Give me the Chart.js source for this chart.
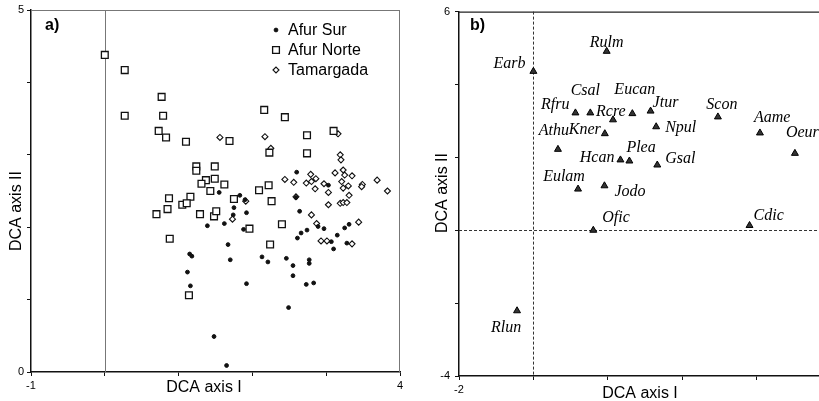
<!DOCTYPE html>
<html>
<head>
<meta charset="utf-8">
<script src="https://cdn.jsdelivr.net/npm/chart.js@4/dist/chart.umd.min.js"></script>
<style>
  html, body { margin: 0; padding: 0; background: #fff; width: 819px; height: 401px; overflow: hidden; }
  #wrapA { position: absolute; left: 0; top: 0; width: 410px; height: 401px; }
  #wrapB { position: absolute; left: 410px; top: 0; width: 430px; height: 401px; }
</style>
</head>
<body>
<div id="wrapA"><canvas id="chartA" width="410" height="401"></canvas></div>
<div id="wrapB"><canvas id="chartB" width="430" height="401"></canvas></div>
<script>
// ---- panel a: sample scores on DCA axes I / II ----
const afurSur = [
  [2.60,2.76],[3.03,2.58],[1.55,2.48],[1.83,2.44],[1.90,2.38],[2.59,2.41],[1.75,2.27],
  [1.92,2.20],[2.64,2.22],[1.39,2.02],[1.62,2.05],[1.88,1.97],[1.67,1.76],[1.70,1.55],
  [1.15,1.63],[1.18,1.60],[1.12,1.38],[1.16,1.19],[1.92,1.22],[1.48,0.49],[1.65,0.09],
  [2.13,1.59],[2.21,1.52],[2.46,1.57],[2.55,1.47],[2.55,1.33],[2.77,1.55],[2.77,1.50],
  [2.73,1.21],[2.83,1.23],[2.49,0.89],[2.61,1.85],[2.66,1.92],[2.74,1.96],[2.89,2.01],
  [2.97,1.98],[3.07,1.80],[3.10,1.70],[3.15,1.89],[3.25,1.99],[3.31,2.04],[3.28,1.78],
  [1.74,2.17]
];
const afurNorte = [
  [0.00,4.38],[0.27,4.17],[0.77,3.80],[0.27,3.54],[0.79,3.54],[0.73,3.33],[0.83,3.24],
  [1.10,3.18],[1.69,3.19],[2.16,3.62],[2.44,3.52],[2.74,3.27],[3.10,3.33],[2.23,3.03],
  [2.74,3.02],[1.24,2.84],[1.24,2.78],[1.49,2.84],[1.37,2.65],[1.49,2.67],[1.31,2.60],
  [1.62,2.59],[1.43,2.50],[2.09,2.51],[2.22,2.58],[0.87,2.40],[1.16,2.42],[1.75,2.39],
  [1.05,2.31],[1.11,2.33],[0.70,2.18],[0.85,2.25],[1.29,2.18],[1.48,2.15],[1.51,2.22],
  [2.26,2.36],[1.96,1.98],[2.40,2.04],[0.88,1.84],[2.24,1.76],[1.14,1.06]
];
const tamargada = [
  [1.56,3.24],[2.17,3.25],[2.25,3.09],[3.16,3.29],[3.19,3.00],[3.20,2.93],[2.44,2.66],
  [2.56,2.62],[2.79,2.73],[2.73,2.61],[2.80,2.63],[2.86,2.67],[2.97,2.60],[2.85,2.53],
  [3.03,2.48],[3.12,2.75],[3.23,2.79],[3.25,2.72],[3.35,2.71],[3.21,2.63],[3.30,2.57],
  [3.23,2.54],[3.49,2.59],[3.48,2.56],[3.69,2.65],[3.83,2.50],[3.31,2.44],[2.59,2.42],
  [1.91,2.36],[3.03,2.31],[3.19,2.33],[3.23,2.34],[3.28,2.34],[2.80,2.17],[2.87,2.05],
  [2.93,1.81],[3.01,1.81],[3.35,1.77],[3.44,2.07],[1.73,2.11]
];
const seriesNames = ['Afur Sur', 'Afur Norte', 'Tamargada'];
const ticksA_x = [-1, 4];
const ticksA_y = [0, 5];

// ---- panel b: species scores ----
const species = ['Rulm','Earb','Rfru','Csal','Rcre','Eucan','Jtur','Scon','Npul','Kner','Aame',
                 'Athu','Oeur','Hcan','Plea','Gsal','Eulam','Jodo','Ofic','Cdic','Rlun'];
const speciesX = [1.97,0.00,1.13,1.53,2.14,2.66,3.15,4.96,3.30,1.92,6.09,
                  0.66,7.03,2.34,2.58,3.33,1.20,1.91,1.61,5.81,-0.44];
const speciesY = [4.91,4.36,3.22,3.22,3.03,3.20,3.27,3.11,2.84,2.65,2.67,
                  2.22,2.11,1.93,1.90,1.79,1.13,1.22,0.00,0.13,-2.21];
const ticksB_x = [-2, 8];
const ticksB_y = [-4, 6];

// label placement next to each triangle: [align, dx, dy]
const labelPlace = [
  ['center',0,-9],['right',-8,-8],['right',-6,-8],['center',-5,-22],['left',-17,-8],
  ['left',-18,-24],['left',2,-8],['center',4,-12],['left',9,1],['right',-4,-4],['left',-6,-15],
  ['center',-4,-19],['left',-9,-21],['right',-6,-2],['left',-3,-13],['left',8,-6],
  ['center',-14,-12],['left',10,6],['left',9,-12],['left',4,-10],['center',-11,17]
];

const SANS = '"Liberation Sans", Arial, sans-serif';
const SERIF = '"Liberation Serif", "Times New Roman", serif';

function toPts(arr) { return arr.map(p => ({x: p[0], y: p[1]})); }

function axisOpts(min, max, step, shown, pad, fit) {
  return {
    type: 'linear', min: min, max: max,
    afterFit: fit,
    ticks: {
      stepSize: step, color: '#000', padding: pad,
      font: {family: SANS, size: 11},
      callback: v => shown.includes(v) ? v : ''
    },
    grid: {drawOnChartArea: false, color: '#111', lineWidth: 1, tickLength: 4},
    border: {color: '#111', width: 1.5}
  };
}

const panelA = {
  id: 'panelA',
  beforeDatasetsDraw(chart) {
    const {ctx, chartArea: a, scales} = chart;
    ctx.save();
    ctx.strokeStyle = '#777';
    ctx.lineWidth = 1;
    ctx.beginPath();
    ctx.moveTo(a.left, a.top + 0.5); ctx.lineTo(a.right, a.top + 0.5);
    ctx.moveTo(a.right - 0.5, a.top); ctx.lineTo(a.right - 0.5, a.bottom);
    const x0 = Math.round(scales.x.getPixelForValue(0)) + 0.5;
    ctx.moveTo(x0, a.top); ctx.lineTo(x0, a.bottom);
    ctx.stroke();
    ctx.restore();
  },
  afterDraw(chart) {
    const ctx = chart.ctx;
    ctx.save();
    ctx.fillStyle = '#000';
    ctx.font = 'bold 16px ' + SANS;
    ctx.textBaseline = 'middle';
    ctx.fillText('a)', 45, 26);
    ctx.font = '16px ' + SANS;
    ctx.textAlign = 'center';
    ctx.fillText('DCA axis I', 204, 388);
    ctx.save();
    ctx.translate(17, 211);
    ctx.rotate(-Math.PI / 2);
    ctx.fillText('DCA axis II', 0, 0);
    ctx.restore();
    // legend
    ctx.textAlign = 'left';
    chart.data.datasets.forEach((ds, i) => {
      const y = 30 + i * 20;
      ctx.fillStyle = ds.pointBackgroundColor;
      ctx.strokeStyle = ds.pointBorderColor;
      ctx.lineWidth = ds.pointBorderWidth;
      Chart.helpers.drawPoint(ctx, {pointStyle: ds.pointStyle, radius: ds.pointRadius, borderWidth: ds.pointBorderWidth, rotation: 0}, 276, y);
      ctx.fillStyle = '#000';
      ctx.fillText(ds.label, 288, y + 1);
    });
    ctx.restore();
  }
};

new Chart(document.getElementById('chartA'), {
  type: 'scatter',
  data: {
    datasets: [
      {label: seriesNames[0], data: toPts(afurSur), pointStyle: 'circle', pointRadius: 1.9,
       pointBackgroundColor: '#111', pointBorderColor: '#111', pointBorderWidth: 1},
      {label: seriesNames[1], data: toPts(afurNorte), pointStyle: 'rect', pointRadius: 4.8,
       pointBackgroundColor: '#fff', pointBorderColor: '#111', pointBorderWidth: 1.3},
      {label: seriesNames[2], data: toPts(tamargada), pointStyle: 'rectRot', pointRadius: 3,
       pointBackgroundColor: '#fff', pointBorderColor: '#111', pointBorderWidth: 1.1}
    ]
  },
  options: {
    responsive: false, animation: false, events: [],
    layout: {padding: {top: 10, right: 10, left: 0, bottom: 0}},
    scales: {
      x: axisOpts(-1, 4, 1, ticksA_x, 3, s => { s.height = 29; }),
      y: axisOpts(0, 5, 1, ticksA_y, 3, s => { s.width = 31; })
    },
    plugins: {legend: {display: false}, tooltip: {enabled: false}}
  },
  plugins: [panelA]
});

const panelB = {
  id: 'panelB',
  beforeDatasetsDraw(chart) {
    const {ctx, chartArea: a, scales} = chart;
    ctx.save();
    ctx.strokeStyle = '#222';
    ctx.lineWidth = 1.3;
    ctx.beginPath();
    ctx.moveTo(a.left, a.top + 0.5); ctx.lineTo(a.right, a.top + 0.5);
    ctx.stroke();
    ctx.strokeStyle = '#333';
    ctx.lineWidth = 1;
    ctx.setLineDash([3, 2]);
    ctx.beginPath();
    const x0 = Math.round(scales.x.getPixelForValue(0)) + 0.5;
    const y0 = Math.round(scales.y.getPixelForValue(0)) + 0.5;
    ctx.moveTo(x0, a.top); ctx.lineTo(x0, a.bottom);
    ctx.moveTo(a.left, y0); ctx.lineTo(a.right, y0);
    ctx.stroke();
    ctx.restore();
  },
  afterDraw(chart) {
    const ctx = chart.ctx;
    const meta = chart.getDatasetMeta(0);
    ctx.save();
    ctx.fillStyle = '#000';
    ctx.textBaseline = 'middle';
    ctx.font = 'italic 16px ' + SERIF;
    meta.data.forEach((pt, i) => {
      const p = labelPlace[i];
      ctx.textAlign = p[0];
      ctx.fillText(species[i], pt.x + p[1], pt.y + p[2]);
    });
    ctx.textAlign = 'left';
    ctx.font = 'bold 16px ' + SANS;
    ctx.fillText('b)', 60, 26);
    ctx.font = '16px ' + SANS;
    ctx.textAlign = 'center';
    ctx.fillText('DCA axis I', 230, 394);
    ctx.save();
    ctx.translate(33, 193);
    ctx.rotate(-Math.PI / 2);
    ctx.fillText('DCA axis II', 0, 0);
    ctx.restore();
    ctx.restore();
  }
};

new Chart(document.getElementById('chartB'), {
  type: 'scatter',
  data: {
    datasets: [{
      label: 'species',
      data: speciesX.map((x, i) => ({x: x, y: speciesY[i]})),
      pointStyle: 'triangle', pointRadius: 4,
      pointBackgroundColor: '#333', pointBorderColor: '#000', pointBorderWidth: 1
    }]
  },
  options: {
    responsive: false, animation: false, events: [],
    layout: {padding: {top: 10, right: 9, left: 0, bottom: 0}},
    scales: {
      x: axisOpts(-2, 8, 2, ticksB_x, 3, s => { s.height = 25; }),
      y: axisOpts(-4, 6, 2, ticksB_y, 5, s => { s.width = 49; })
    },
    plugins: {legend: {display: false}, tooltip: {enabled: false}}
  },
  plugins: [panelB]
});
</script>
</body>
</html>
